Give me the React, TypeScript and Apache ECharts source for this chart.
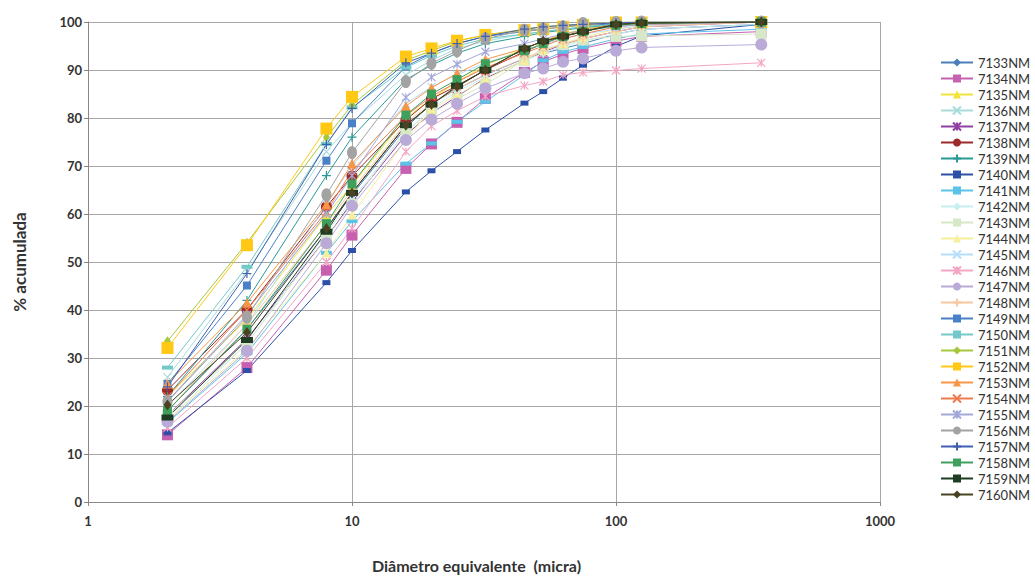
import React, { useEffect, useRef } from "react";
import * as echarts from "echarts";

const diameters = [2, 4, 8, 10, 16, 20, 25, 32, 45, 53, 63, 75, 100, 125, 355];

const seriesNames = [
  "7133NM", "7134NM", "7135NM", "7136NM", "7137NM", "7138NM", "7139NM",
  "7140NM", "7141NM", "7142NM", "7143NM", "7144NM", "7145NM", "7146NM",
  "7147NM", "7148NM", "7149NM", "7150NM", "7151NM", "7152NM", "7153NM",
  "7154NM", "7155NM", "7156NM", "7157NM", "7158NM", "7159NM", "7160NM",
];

const v7133 = [19, 36, 57, 64, 78, 83, 86, 89, 92.4, 93.5, 94.5, 95.5, 97.5, 98.5, 99.5];
const v7134 = [14, 28, 48.3, 55.6, 69.5, 74.6, 79.1, 84.1, 89.5, 91.7, 93.3, 94.5, 96, 97, 98];
const v7135 = [22, 38, 59.8, 66, 80, 84, 87.5, 91, 94.5, 96, 97.5, 98.5, 99.5, 99.8, 100];
const v7136 = [26, 48, 73, 79, 89, 92, 94.5, 96, 97.5, 98, 98.5, 99, 99.5, 99.8, 100];
const v7137 = [18, 34, 55, 62.5, 76.5, 81, 84.5, 88.3, 92, 93.8, 95.3, 96.5, 98, 99, 100];
const v7138 = [23.3, 40.1, 61.5, 67.9, 79.6, 84, 86.7, 90, 93.8, 95.5, 97, 98, 99.5, 99.8, 100];
const v7139 = [22, 42, 68, 76, 88, 91, 93.5, 95.5, 97, 97.8, 98.3, 98.8, 99.5, 99.8, 100];
const v7140 = [14.4, 27.4, 45.7, 52.4, 64.6, 69, 73, 77.5, 83.1, 85.5, 88.3, 91, 94.9, 97.1, 99.5];
const v7141 = [16.5, 31, 51.9, 58.5, 70.5, 74.7, 79.2, 83.4, 89, 92, 93.8, 94.8, 96.5, 97.5, 98.5];
const v7142 = [17, 33, 56, 63, 77, 82, 85.5, 88.5, 92, 93.5, 95, 96, 97.5, 98.5, 99.5];
const v7143 = [18, 33, 55, 62, 77.5, 81, 84, 87, 92, 94.5, 95.3, 96.25, 97, 97.1, 97.5];
const v7144 = [17, 32, 51.9, 59.8, 75.5, 81.8, 84.8, 88, 92, 94, 95.5, 96.8, 98.5, 99.3, 100];
const v7145 = [20, 37, 62, 70, 83, 86.5, 89, 91.5, 94, 95.5, 96.5, 97.5, 98.5, 99.3, 100];
const v7146 = [15.5, 30, 50, 57, 73, 78.3, 81.5, 84.5, 86.75, 87.6, 89, 89.5, 89.9, 90.3, 91.5];
const v7147 = [16.7, 31.5, 53.9, 61.7, 75.4, 79.7, 83, 86.2, 89.3, 90.3, 91.7, 92.4, 94, 94.7, 95.3];
const v7148 = [19, 37, 58, 65, 79, 83, 86, 89, 92.5, 94, 95.5, 96.5, 98, 99, 100];
const v7149 = [24.6, 45.1, 71.1, 78.9, 90.7, 93.5, 95.5, 97, 98, 98.5, 99, 99.3, 99.6, 99.8, 100];
const v7150 = [28, 49, 74.6, 82.2, 90.5, 93, 95, 96.5, 97.5, 98, 98.5, 99, 99.5, 99.7, 100];
const v7151 = [33.5, 54, 76, 82.7, 92, 94, 96, 97.3, 98.5, 99, 99.3, 99.6, 100, 100, 100];
const v7152 = [32.1, 53.5, 77.8, 84.4, 92.8, 94.5, 96.1, 97.3, 98.3, 98.5, 99, 99.4, 99.9, 99.9, 100];
const v7153 = [24.7, 41.5, 62, 70.5, 82.5, 86.3, 89.3, 92.2, 94.5, 96, 97.3, 98.3, 99.5, 99.8, 100];
const v7154 = [22, 40, 60.5, 69, 80.5, 84.5, 87.5, 90.5, 93.5, 95, 96.5, 97.5, 99, 99.5, 100];
const v7155 = [21, 39, 60, 68, 84.3, 88.5, 91.2, 93.8, 95.5, 96.5, 97.5, 98.3, 99, 99.5, 100];
const v7156 = [20.9, 38.5, 64, 72.8, 87.6, 91.4, 94, 96.5, 98.3, 98.5, 99, 99.7, 99.9, 100, 100];
const v7157 = [24, 47.6, 74.5, 82, 91.5, 93.5, 95.5, 97, 98.5, 99, 99.3, 99.5, 99.8, 100, 100];
const v7158 = [19, 36, 58, 66.25, 80.6, 85, 88, 91.3, 94, 95.5, 97, 98, 99.3, 99.7, 100];
const v7159 = [17.6, 33.75, 56.3, 64.4, 78.5, 82.8, 86.7, 90, 94.5, 96, 97, 98, 99.5, 99.8, 100];
const v7160 = [20.2, 35.3, 57, 64.4, 78.5, 82.8, 86.5, 90, 94.5, 96, 97, 98, 99.5, 99.8, 100];

const seriesValues = [
  v7133, v7134, v7135, v7136, v7137, v7138, v7139, v7140, v7141, v7142,
  v7143, v7144, v7145, v7146, v7147, v7148, v7149, v7150, v7151, v7152,
  v7153, v7154, v7155, v7156, v7157, v7158, v7159, v7160,
];

const yTicks = [0, 10, 20, 30, 40, 50, 60, 70, 80, 90, 100];
const xTicks = [1, 10, 100, 1000];

const X_SYM = "path://M0,0L10,10M0,10L10,0";
const STAR_SYM = "path://M0,0L10,10M0,10L10,0M5,0L5,10";
const PLUS_SYM = "path://M5,0L5,10M0,5L10,5";

type Style = { color: string; symbol: string; size: number | number[]; stroke?: boolean };

const styles: Style[] = [
  { color: "#4a7ebb", symbol: "diamond", size: [8, 11] },
  { color: "#c660b0", symbol: "rect", size: 11 },
  { color: "#f2e33a", symbol: "triangle", size: 9 },
  { color: "#a8dcdc", symbol: X_SYM, size: 8, stroke: true },
  { color: "#8e3fa0", symbol: STAR_SYM, size: 8, stroke: true },
  { color: "#9c2a2a", symbol: "circle", size: 11 },
  { color: "#2a9a96", symbol: PLUS_SYM, size: 9, stroke: true },
  { color: "#2c50a8", symbol: "rect", size: [8, 5] },
  { color: "#5cc3e8", symbol: "rect", size: [11, 4] },
  { color: "#c9eef0", symbol: "diamond", size: [7, 10] },
  { color: "#d7e8c8", symbol: "rect", size: 11 },
  { color: "#f7ef9a", symbol: "triangle", size: 9 },
  { color: "#b5defa", symbol: X_SYM, size: 8, stroke: true },
  { color: "#f3a6c4", symbol: STAR_SYM, size: 8, stroke: true },
  { color: "#b9aad8", symbol: "circle", size: 12 },
  { color: "#f9c79f", symbol: PLUS_SYM, size: 9, stroke: true },
  { color: "#4a80c8", symbol: "rect", size: 8 },
  { color: "#73c9c9", symbol: "rect", size: [11, 4] },
  { color: "#a6c83a", symbol: "diamond", size: [7, 10] },
  { color: "#ffc815", symbol: "rect", size: 12 },
  { color: "#f79646", symbol: "triangle", size: 10 },
  { color: "#ec7b4f", symbol: X_SYM, size: 8, stroke: true },
  { color: "#a2a8d8", symbol: STAR_SYM, size: 8, stroke: true },
  { color: "#a3a3a3", symbol: "circle", size: [10, 13] },
  { color: "#3f5fb0", symbol: PLUS_SYM, size: 9, stroke: true },
  { color: "#3fa05e", symbol: "rect", size: 9 },
  { color: "#1f3d22", symbol: "rect", size: [12, 6] },
  { color: "#4a4220", symbol: "diamond", size: [8, 11] },
];

export default function App() {
  const ref = useRef<HTMLDivElement>(null);
  useEffect(() => {
    if (!ref.current) return;
    const chart = echarts.init(ref.current, null, { renderer: "svg" });
    const font = "Lato, 'Open Sans', sans-serif";
    const series = seriesNames.map((name, i) => {
      const st = styles[i];
      return {
        name,
        type: "line",
        data: diameters.map((d, j) => [d, seriesValues[i][j]]),
        symbol: st.symbol,
        symbolSize: st.size,
        showAllSymbol: true,
        lineStyle: { color: st.color, width: 1 },
        itemStyle: {
          color: st.color,
          borderColor: st.color,
          borderWidth: st.stroke ? 1.2 : 0,
        },
        emphasis: { disabled: true },
      };
    });
    chart.setOption({
      animation: false,
      backgroundColor: "#ffffff",
      textStyle: { fontFamily: font },
      grid: { left: 88, right: 155, top: 22, bottom: 77, containLabel: false },
      legend: {
        orient: "vertical",
        left: 940,
        top: 56,
        itemWidth: 32,
        itemHeight: 10,
        itemGap: 3,
        padding: 0,
        textStyle: { fontSize: 13, color: "#333", fontFamily: font },
        data: seriesNames,
      },
      xAxis: {
        type: "log",
        logBase: 10,
        min: 1,
        max: 1000,
        name: "Diâmetro equivalente  (micra)",
        nameLocation: "middle",
        nameGap: 55,
        nameTextStyle: { fontSize: 16, fontWeight: "bold", color: "#333", padding: [0, 15, 0, 0] },
        axisLine: { lineStyle: { color: "#888" } },
        axisTick: { show: true, length: 4, lineStyle: { color: "#888" } },
        axisLabel: {
          fontSize: 13,
          fontWeight: "bold",
          color: "#333",
          margin: 12,
          formatter: (v: number) => {
            const t = xTicks.find((k) => Math.abs(k - v) < 1e-6 * k);
            return t !== undefined ? String(t) : "";
          },
        },
        splitLine: { show: true, lineStyle: { color: "#a6a6a6", width: 1 } },
        minorTick: { show: false },
      },
      yAxis: {
        type: "value",
        min: 0,
        max: 100,
        interval: 10,
        name: "% acumulada",
        nameLocation: "middle",
        nameGap: 60,
        nameTextStyle: { fontSize: 17, fontWeight: "bold", color: "#333" },
        axisLine: { show: true, lineStyle: { color: "#888" } },
        axisTick: { show: true, length: 4, lineStyle: { color: "#888" } },
        axisLabel: {
          fontSize: 13,
          fontWeight: "bold",
          color: "#333",
          margin: 6,
          formatter: (v: number) => (yTicks.includes(v) ? String(v) : ""),
        },
        splitLine: { show: true, lineStyle: { color: "#a6a6a6", width: 1 } },
      },
      series,
    });
    return () => chart.dispose();
  }, []);
  return (
    <div
      ref={ref}
      style={{ position: "fixed", left: 0, top: 0, width: 1035, height: 579 }}
    />
  );
}
